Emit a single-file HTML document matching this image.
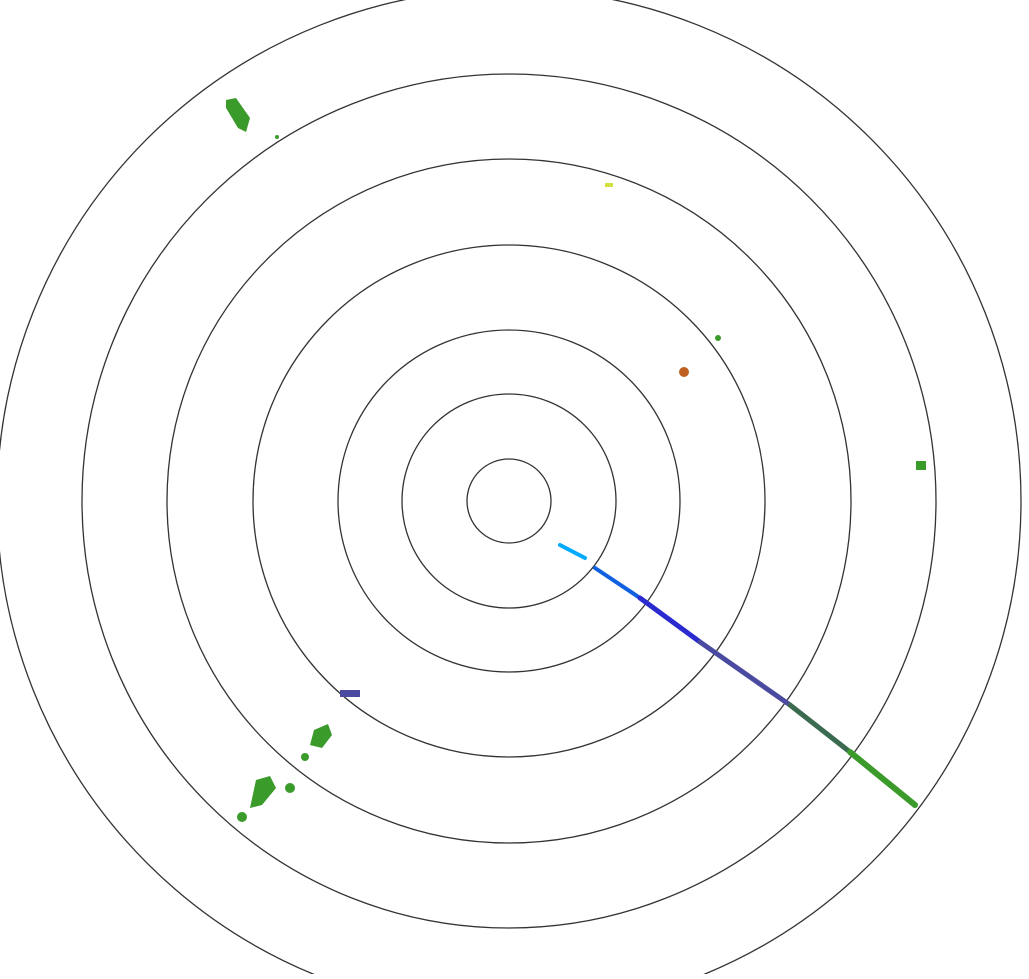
<!DOCTYPE html>
<html><head><style>html,body{margin:0;padding:0;background:#fff;overflow:hidden}</style></head>
<body>
<svg width="1029" height="974" viewBox="0 0 1029 974" xmlns="http://www.w3.org/2000/svg">
<g fill="none" stroke="#333" stroke-width="1.3">
<circle cx="509" cy="501" r="42"/>
<circle cx="509" cy="501" r="107"/>
<circle cx="509" cy="501" r="171"/>
<circle cx="509" cy="501" r="256"/>
<circle cx="509" cy="501" r="342"/>
<circle cx="509" cy="501" r="427"/>
<circle cx="509" cy="501" r="512"/>
</g>
<g stroke-linecap="round">
<line x1="560" y1="545" x2="585" y2="558" stroke="#00aaff" stroke-width="4"/>
<line x1="595" y1="568" x2="640" y2="598" stroke="#1060e0" stroke-width="4"/>
<line x1="640" y1="598" x2="700" y2="642" stroke="#2a2ad0" stroke-width="5"/>
<line x1="700" y1="642" x2="790" y2="705" stroke="#4a4aa0" stroke-width="5"/>
<line x1="790" y1="705" x2="850" y2="752" stroke="#3a6a50" stroke-width="5"/>
<line x1="850" y1="752" x2="915" y2="805" stroke="#3a9a2a" stroke-width="6"/>
</g>
<g fill="#3a9a2a">
<path d="M226 100 L236 98 L250 118 L246 132 L238 128 L226 108Z"/>
<rect x="916" y="461" width="10" height="9"/>
<circle cx="718" cy="338" r="3"/>
<circle cx="684" cy="372" r="5" fill="#c06020"/>
<path d="M256 780 L270 776 L276 788 L262 805 L250 808Z"/>
<circle cx="290" cy="788" r="5"/>
<circle cx="242" cy="817" r="5"/>
<path d="M314 730 L328 724 L332 735 L322 748 L310 745Z"/>
<circle cx="305" cy="757" r="4"/>
<circle cx="277" cy="137" r="2"/>
</g>
<rect x="340" y="690" width="20" height="7" fill="#4a4aa0"/>
<rect x="605" y="183" width="8" height="4" fill="#d0e040"/>
</svg>
</body></html>
